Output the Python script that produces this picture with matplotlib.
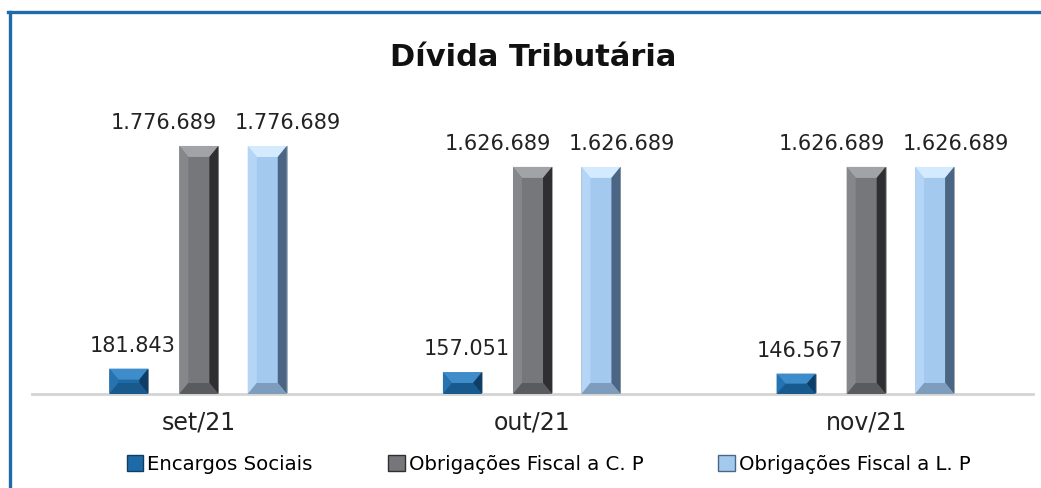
import numpy as np
import matplotlib
matplotlib.use("Agg")
import matplotlib.pyplot as plt
from matplotlib.patches import Polygon, Patch
from matplotlib.lines import Line2D

categories = ["set/21", "out/21", "nov/21"]
series_names = ["Encargos Sociais", "Obrigações Fiscal a C. P", "Obrigações Fiscal a L. P"]
encargos = [181843, 157051, 146567]
obrig_cp = [1776689, 1626689, 1626689]
obrig_lp = [1776689, 1626689, 1626689]

colors = ["#1D6AA6", "#76777B", "#A4C9EF"]
top_hi = ["#3F8CCB", "#A2A3A7", "#D4EAFF"]
side_lo = ["#0E3E66", "#2F2F31", "#4A6684"]
bot_lo = ["#185A8E", "#5A5B5E", "#7E9CBC"]
left_c = ["#2573B0", "#86878B", "#B4D5F5"]


def fmt(v):
    return f"{v:,}".replace(",", ".")


def bevel(ax, bar, i, bx, by):
    x0, y0 = bar.get_x(), bar.get_y()
    x1, y1 = x0 + bar.get_width(), y0 + bar.get_height()
    by = min(by, (y1 - y0) / 2)
    bx = min(bx, (x1 - x0) / 2)
    ix0, ix1, iy0, iy1 = x0 + bx, x1 - bx, y0 + by, y1 - by
    parts = [
        ([(x0, y1), (x1, y1), (ix1, iy1), (ix0, iy1)], top_hi[i]),
        ([(x0, y0), (x0, y1), (ix0, iy1), (ix0, iy0)], left_c[i]),
        ([(x1, y0), (x1, y1), (ix1, iy1), (ix1, iy0)], side_lo[i]),
        ([(x0, y0), (x1, y0), (ix1, iy0), (ix0, iy0)], bot_lo[i]),
    ]
    for pts, c in parts:
        ax.add_patch(Polygon(pts, closed=True, facecolor=c, edgecolor="none",
                             zorder=3))


fig = plt.figure(figsize=(10.41, 4.89), dpi=100)
ax = fig.add_axes([32 / 1041, 1 - 395 / 489, 1001 / 1041, 295 / 489])

x = np.arange(len(categories))
width = 0.117
offsets = [-0.21, 0.0, 0.205]
all_values = [encargos, obrig_cp, obrig_lp]
label_dx = [3, -25, 15]

ymax = 2113000
ax.set_xlim(-0.5, len(categories) - 0.5)
ax.set_ylim(0, ymax)

bx = 9 / 333.7
by = 11 * ymax / 295

for i, vals in enumerate(all_values):
    bars = ax.bar(x + offsets[i], vals, width, color=colors[i],
                  edgecolor="#a8a8a8", linewidth=0.6, zorder=2)
    for b, v in zip(bars, vals):
        bevel(ax, b, i, bx, by)
        ax.annotate(fmt(v), (b.get_x() + b.get_width() / 2, b.get_height()),
                    xytext=(label_dx[i], 10), textcoords="offset points",
                    ha="center", va="bottom", fontsize=15, color="#222222")

for s in ["top", "right", "left"]:
    ax.spines[s].set_visible(False)
ax.spines["bottom"].set_color("#d4d4d4")
ax.spines["bottom"].set_linewidth(2)
ax.set_yticks([])
ax.set_xticks(x)
ax.set_xticklabels(categories, fontsize=17, color="#222222")
ax.tick_params(axis="x", length=0, pad=11)

fig.text(0.512, 1 - 57 / 489, "Dívida Tributária", ha="center", va="center",
         fontsize=22, fontweight="bold", color="#111111")

handles = [Patch(facecolor=c, edgecolor=d, linewidth=1) for c, d in zip(colors, side_lo)]
fig.legend(handles, series_names, loc="center", bbox_to_anchor=(0.527, 1 - 465 / 489),
           ncol=3, frameon=False, fontsize=14.2, handlelength=0.85, handleheight=0.85,
           handletextpad=0.2, columnspacing=3.8)

# chart border (cropped at right and bottom)
fig.add_artist(Line2D([9.5 / 1041, 9.5 / 1041], [0, 1 - 12.5 / 489],
                      transform=fig.transFigure, color="#1F6BAA", linewidth=2.4))
fig.add_artist(Line2D([8 / 1041, 1], [1 - 12.5 / 489, 1 - 12.5 / 489],
                      transform=fig.transFigure, color="#1F6BAA", linewidth=2.4))

fig.savefig("out.png", dpi=100)
